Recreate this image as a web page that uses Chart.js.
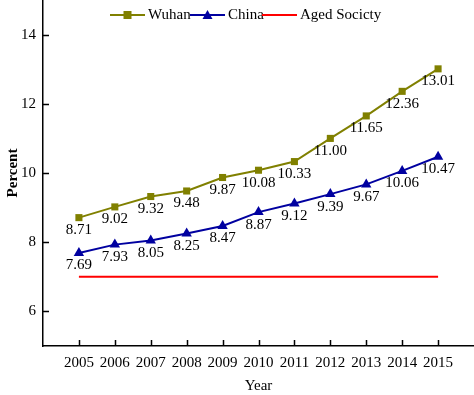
<!DOCTYPE html>
<html>
<head>
<meta charset="utf-8">
<script src="https://cdn.jsdelivr.net/npm/chart.js@4"></script>
<style>
  html, body { margin: 0; padding: 0; background: #fff; }
  #wrap { width: 474px; height: 395px; }
</style>
</head>
<body>
<div id="wrap"><canvas id="chart"></canvas></div>
<script>
const years = [2005, 2006, 2007, 2008, 2009, 2010, 2011, 2012, 2013, 2014, 2015];
const wuhan = [8.71, 9.02, 9.32, 9.48, 9.87, 10.08, 10.33, 11.00, 11.65, 12.36, 13.01];
const china = [7.69, 7.93, 8.05, 8.25, 8.47, 8.87, 9.12, 9.39, 9.67, 10.06, 10.47];
const agedLevel = 7;
const yTicks = [6, 8, 10, 12, 14];

const FONT = '"Liberation Serif", "Times New Roman", serif';
const OLIVE = '#808000';
const BLUE = '#0000a0';
const RED = '#ff0000';

// value labels under the markers + inward tick marks + legend
const extras = {
    id: 'extras',
    afterDatasetsDraw(chart) {
        const ctx = chart.ctx;
        ctx.save();
        ctx.font = '15px ' + FONT;
        ctx.fillStyle = '#000';
        ctx.textAlign = 'center';
        ctx.textBaseline = 'top';
        [0, 1].forEach(di => {
            const meta = chart.getDatasetMeta(di);
            meta.data.forEach((pt, i) => {
                ctx.fillText(chart.data.datasets[di].data[i].y.toFixed(2), pt.x, pt.y + 5);
            });
        });

        // inward ticks
        const xs = chart.scales.x, ys = chart.scales.y;
        ctx.strokeStyle = '#000';
        ctx.lineWidth = 1.5;
        ctx.beginPath();
        years.forEach(v => {
            const px = Math.round(xs.getPixelForValue(v)) + 0.5;
            ctx.moveTo(px, ys.bottom);
            ctx.lineTo(px, ys.bottom - 6);
        });
        yTicks.forEach(v => {
            const py = Math.round(ys.getPixelForValue(v)) + 0.5;
            ctx.moveTo(xs.left, py);
            ctx.lineTo(xs.left + 6, py);
        });
        ctx.stroke();

        // legend
        const ly = 15;
        const items = [
            { label: 'Wuhan', color: OLIVE, marker: 'rect', x: 110 },
            { label: 'China', color: BLUE, marker: 'tri', x: 190 },
            { label: 'Aged Socicty', color: RED, marker: null, x: 262 }
        ];
        ctx.font = '15px ' + FONT;
        ctx.textAlign = 'left';
        ctx.textBaseline = 'middle';
        items.forEach(it => {
            ctx.strokeStyle = it.color;
            ctx.lineWidth = 2;
            ctx.beginPath();
            ctx.moveTo(it.x, ly);
            ctx.lineTo(it.x + 35, ly);
            ctx.stroke();
            ctx.fillStyle = it.color;
            const cx = it.x + 17.5;
            if (it.marker === 'rect') {
                ctx.fillRect(cx - 4, ly - 4, 8, 8);
            } else if (it.marker === 'tri') {
                ctx.beginPath();
                ctx.moveTo(cx, ly - 5);
                ctx.lineTo(cx + 5, ly + 4);
                ctx.lineTo(cx - 5, ly + 4);
                ctx.closePath();
                ctx.fill();
            }
            ctx.fillStyle = '#000';
            ctx.fillText(it.label, it.x + 38, ly);
        });
        ctx.restore();
    }
};

new Chart(document.getElementById('chart'), {
    type: 'line',
    data: {
        datasets: [
            {
                label: 'Wuhan',
                data: years.map((y, i) => ({ x: y, y: wuhan[i] })),
                borderColor: OLIVE,
                backgroundColor: OLIVE,
                borderWidth: 2,
                pointStyle: 'rect',
                pointRadius: 5,
                pointBorderWidth: 0,
                tension: 0
            },
            {
                label: 'China',
                data: years.map((y, i) => ({ x: y, y: china[i] })),
                borderColor: BLUE,
                backgroundColor: BLUE,
                borderWidth: 2,
                pointStyle: 'triangle',
                pointRadius: 6,
                pointBorderWidth: 0,
                tension: 0
            },
            {
                label: 'Aged Socicty',
                data: [{ x: years[0], y: agedLevel }, { x: years[years.length - 1], y: agedLevel }],
                borderColor: RED,
                borderWidth: 2,
                pointRadius: 0
            }
        ]
    },
    options: {
        responsive: true,
        maintainAspectRatio: false,
        animation: false,
        layout: { padding: 0, autoPadding: false },
        plugins: { legend: { display: false }, tooltip: { enabled: false } },
        scales: {
            x: {
                type: 'linear',
                min: 2004,
                max: 2016,
                afterBuildTicks: s => { s.ticks = years.map(v => ({ value: v })); },
                afterFit: s => { s.height = 49; s.paddingLeft = 0; s.paddingRight = 0; },
                grid: { drawOnChartArea: false, drawTicks: false },
                border: { color: '#000', width: 1.5 },
                ticks: {
                    color: '#000',
                    padding: 8,
                    maxRotation: 0,
                    font: { family: FONT, size: 15 },
                    callback: v => String(v)
                },
                title: {
                    display: true,
                    text: 'Year',
                    color: '#000',
                    padding: { top: 2, bottom: 0 },
                    font: { family: FONT, size: 15 }
                }
            },
            y: {
                min: 5,
                max: 15,
                afterBuildTicks: s => { s.ticks = yTicks.map(v => ({ value: v })); },
                afterFit: s => { s.width = 43; s.paddingTop = 0; s.paddingBottom = 0; },
                grid: { drawOnChartArea: false, drawTicks: false },
                border: { color: '#000', width: 1.5 },
                ticks: {
                    color: '#000',
                    padding: 7,
                    font: { family: FONT, size: 15 }
                },
                title: {
                    display: true,
                    text: 'Percent',
                    color: '#000',
                    padding: { top: 4, bottom: 0 },
                    font: { family: FONT, size: 15, weight: 'bold' }
                }
            }
        }
    },
    plugins: [extras]
});
</script>
</body>
</html>
